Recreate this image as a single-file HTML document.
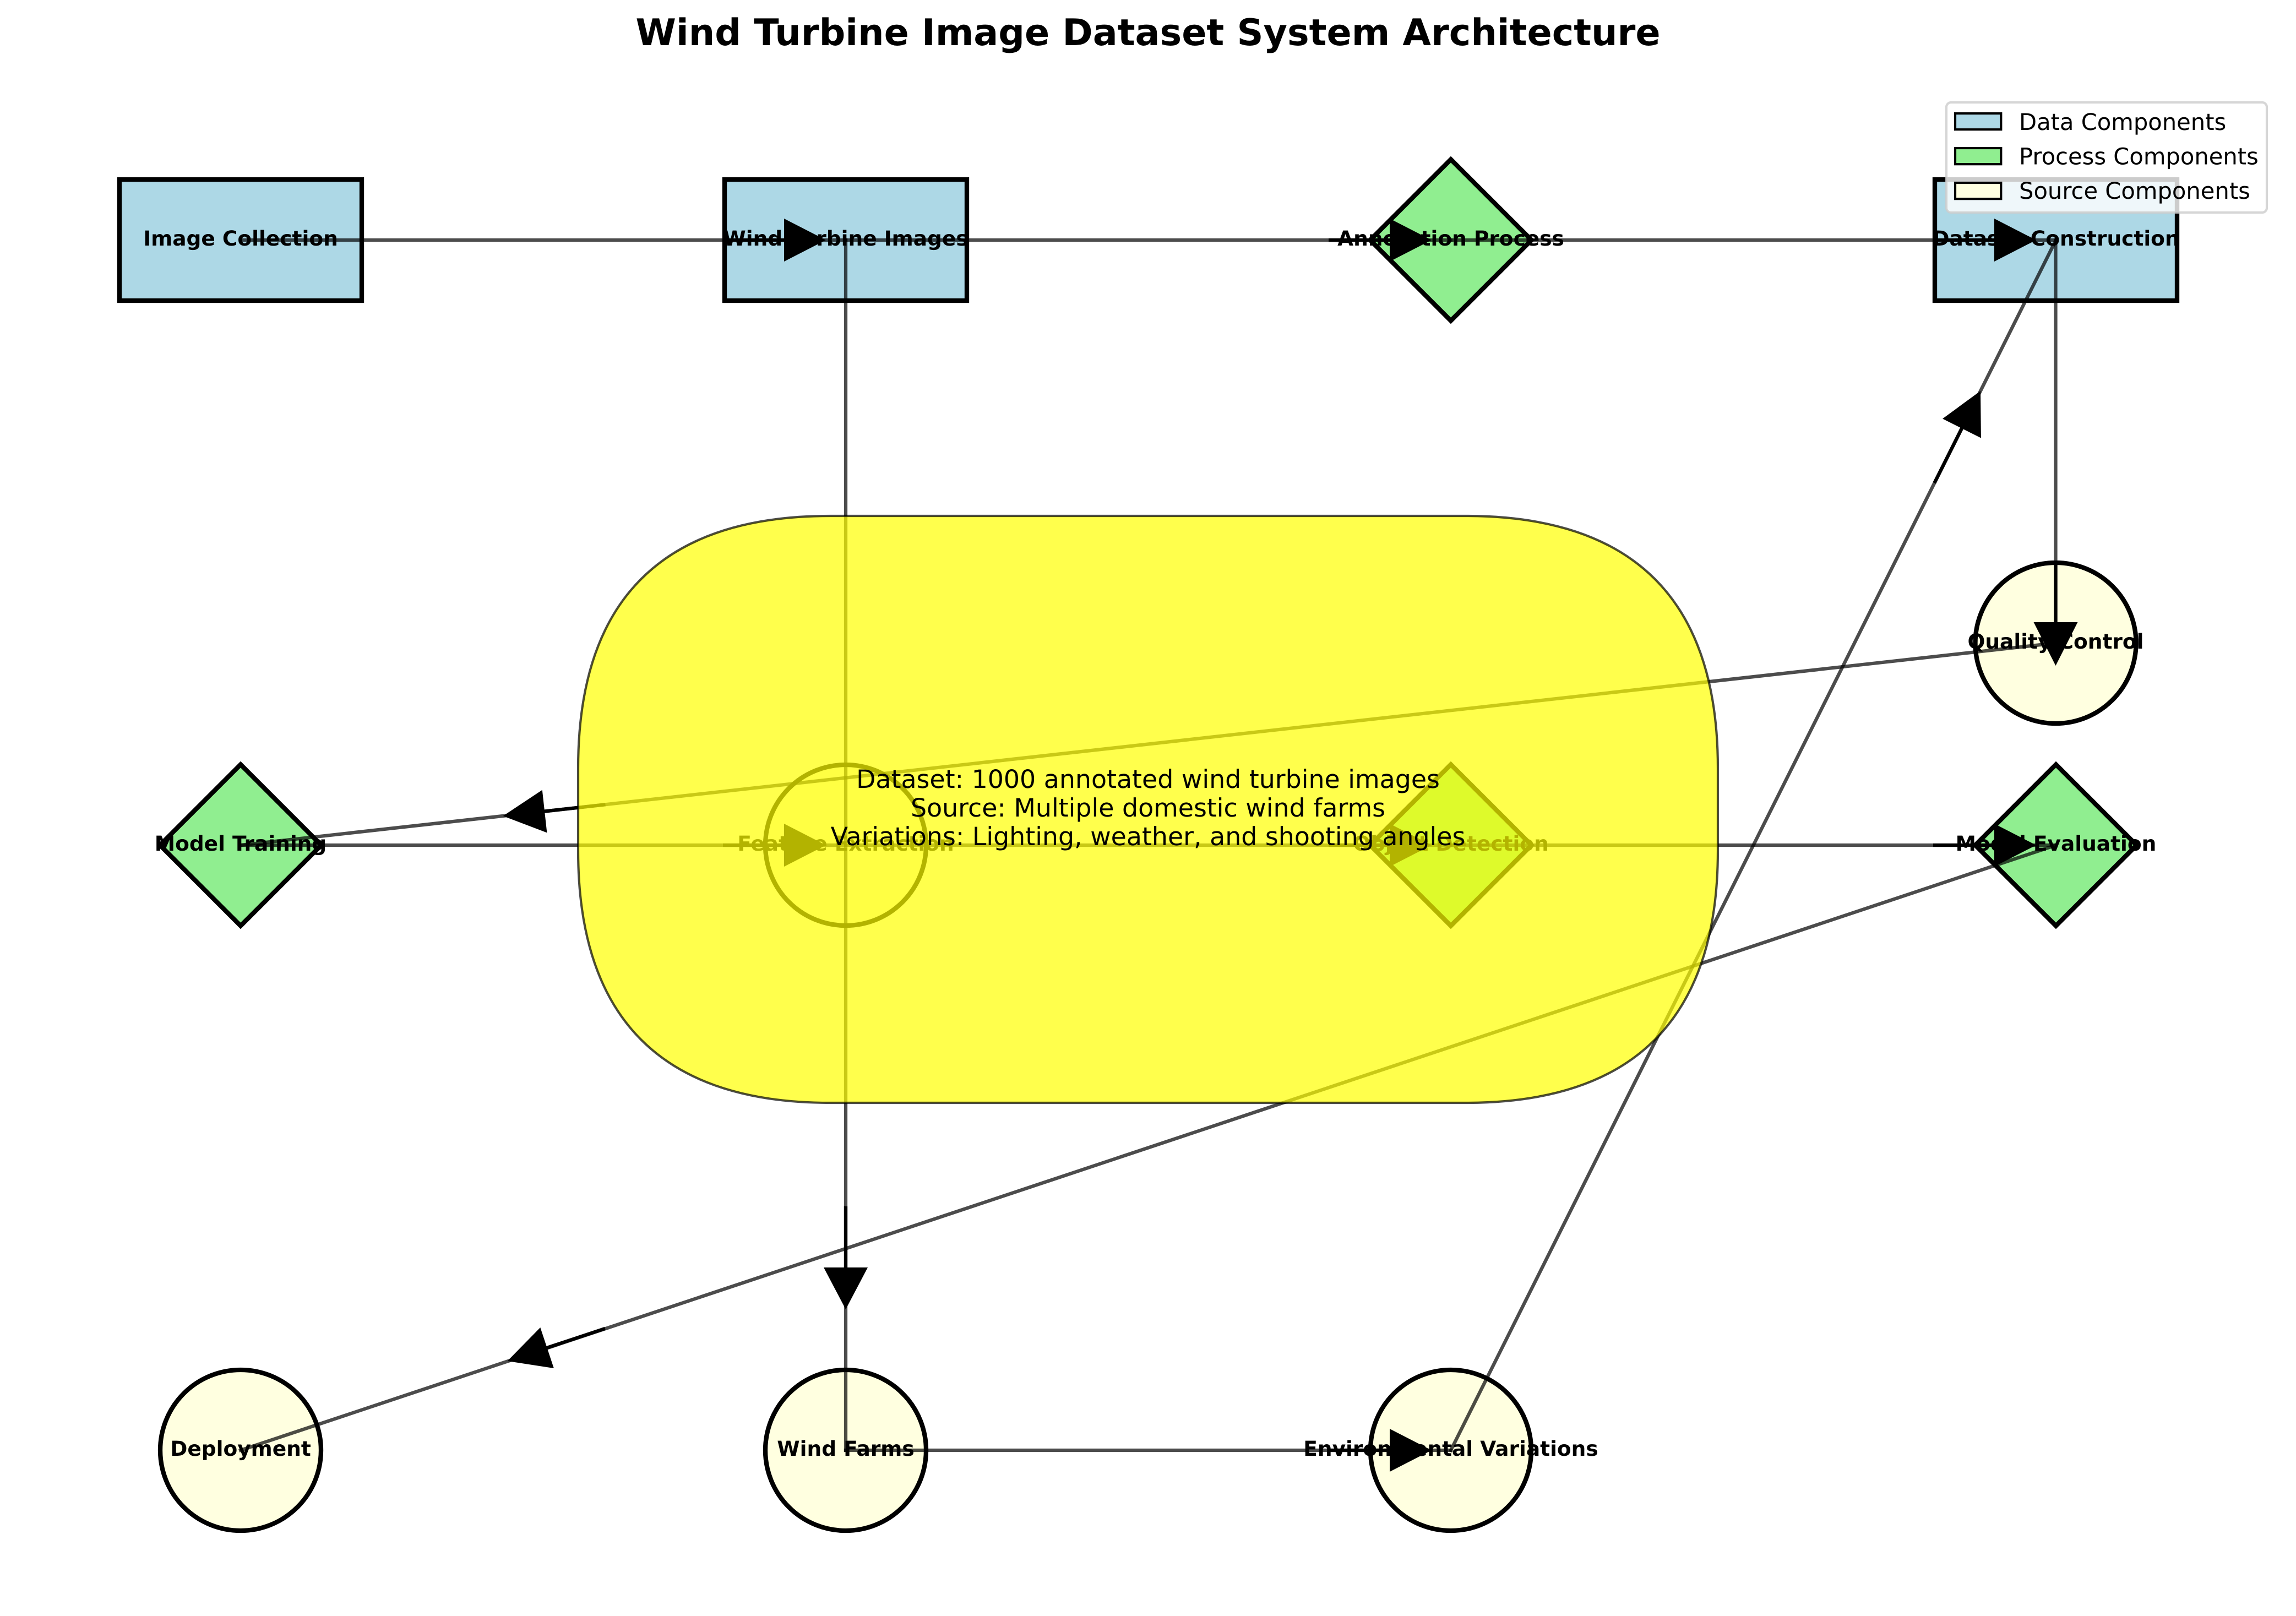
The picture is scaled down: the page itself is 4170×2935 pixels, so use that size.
<!DOCTYPE html>
<html lang="en">
<head>
<meta charset="utf-8">
<title>Wind Turbine Image Dataset System Architecture</title>
<style>
html,body{margin:0;padding:0;background:#fff;}
svg{display:block;}
text{font-family:"DejaVu Sans","Liberation Sans",sans-serif;text-rendering:geometricPrecision;fill:#000;}
.t{font-size:66.67px;font-weight:700;text-anchor:middle;}
.n{font-size:37.5px;font-weight:700;text-anchor:middle;}
.a{font-size:45.83px;text-anchor:middle;}
.l{font-size:41.67px;}
</style>
</head>
<body>
<svg width="4170" height="2935" viewBox="0 0 4170 2935" xmlns="http://www.w3.org/2000/svg">
<rect width="4170" height="2935" fill="#fff"/>
<text class="t" x="2085" y="82">Wind Turbine Image Dataset System Architecture</text>

<!-- nodes -->
<g stroke="#000" stroke-width="8.33">
<rect x="217" y="326" width="440" height="220" fill="#add8e6"/>
<rect x="1316" y="326" width="440" height="220" fill="#add8e6"/>
<polygon points="2635,289.5 2781.5,436 2635,582.5 2488.5,436" fill="#90ee90"/>
<rect x="3514" y="326" width="440" height="220" fill="#add8e6"/>
<circle cx="3733.5" cy="1168" r="146" fill="#ffffe0"/>
<polygon points="437,1388.5 583.5,1535 437,1681.5 290.5,1535" fill="#90ee90"/>
<circle cx="1536" cy="1535" r="146" fill="#ffffe0"/>
<polygon points="2635,1388.5 2781.5,1535 2635,1681.5 2488.5,1535" fill="#90ee90"/>
<polygon points="3734,1388.5 3880.5,1535 3734,1681.5 3587.5,1535" fill="#90ee90"/>
<circle cx="437" cy="2634" r="146" fill="#ffffe0"/>
<circle cx="1536" cy="2634" r="146" fill="#ffffe0"/>
<circle cx="2635" cy="2634" r="146" fill="#ffffe0"/>
</g>

<!-- node labels -->
<text class="n" x="437" y="446">Image Collection</text>
<text class="n" x="1536" y="446">Wind Turbine Images</text>
<text class="n" x="2635" y="446">Annotation Process</text>
<text class="n" x="3734" y="446">Dataset Construction</text>
<text class="n" x="3733.5" y="1178">Quality Control</text>
<text class="n" x="437" y="1545">Model Training</text>
<text class="n" x="1536" y="1545">Feature Extraction</text>
<text class="n" x="2635" y="1545">Object Detection</text>
<text class="n" x="3734" y="1545">Model Evaluation</text>
<text class="n" x="437" y="2644">Deployment</text>
<text class="n" x="1536" y="2644">Wind Farms</text>
<text class="n" x="2635" y="2644">Environmental Variations</text>

<!-- connector lines -->
<g stroke="#000" stroke-opacity="0.7" stroke-width="6.25" fill="none" stroke-linecap="square">
<line x1="437" y1="436" x2="1536" y2="436"/>
<line x1="1536" y1="436" x2="2635" y2="436"/>
<line x1="2635" y1="436" x2="3734" y2="436"/>
<line x1="3733.5" y1="436" x2="3733.5" y2="1168"/>
<line x1="3733.5" y1="1168" x2="437" y2="1535"/>
<line x1="437" y1="1535" x2="1536" y2="1535"/>
<line x1="1536" y1="1535" x2="2635" y2="1535"/>
<line x1="2635" y1="1535" x2="3734" y2="1535"/>
<line x1="3734" y1="1535" x2="437" y2="2634"/>
<line x1="1536" y1="436" x2="1536" y2="2634"/>
<line x1="1536" y1="2634" x2="2635" y2="2634"/>
<line x1="2635" y1="2634" x2="3734" y2="436"/>
</g>

<!-- arrow shafts -->
<g stroke="#000" stroke-width="6.25" fill="none">
<line x1="1313" y1="436" x2="1430" y2="436"/>
<line x1="2413" y1="436" x2="2530" y2="436"/>
<line x1="3511" y1="436" x2="3628" y2="436"/>
<line x1="3733.5" y1="1022" x2="3733.5" y2="1136"/>
<line x1="1099.5" y1="1461.3" x2="985" y2="1474"/>
<line x1="1313" y1="1535" x2="1430" y2="1535"/>
<line x1="2413" y1="1535" x2="2530" y2="1535"/>
<line x1="3511" y1="1535" x2="3628" y2="1535"/>
<line x1="1536" y1="2191" x2="1536" y2="2308"/>
<line x1="1098.9" y1="2412.9" x2="990" y2="2449"/>
<line x1="2413" y1="2634" x2="2530" y2="2634"/>
<line x1="3513.3" y1="877.2" x2="3566" y2="772"/>
</g>

<!-- arrow heads -->
<g fill="#000">
<polygon points="1424,397 1500,436 1424,475"/>
<polygon points="2524,397 2600,436 2524,475"/>
<polygon points="3622,397 3698,436 3622,475"/>
<polygon points="3693.5,1130 3773.5,1130 3733.5,1209"/>
<polygon points="993.4,1512.4 984.8,1434.8 913.6,1482"/>
<polygon points="1424,1496 1500,1535 1424,1574"/>
<polygon points="2524,1496 2600,1535 2524,1574"/>
<polygon points="3622,1496 3698,1535 3622,1574"/>
<polygon points="1496,2302 1576,2302 1536,2378"/>
<polygon points="1005.9,2485 981.3,2411 921.5,2472"/>
<polygon points="2524,2595 2600,2634 2524,2673"/>
<polygon points="3597,710 3597.9,795.5 3528.1,760.5"/>
</g>

<!-- annotation box -->
<path d="M1508,937 L2662,937 Q3120,937 3120,1395 L3120,1545 Q3120,2003 2662,2003 L1508,2003 Q1050,2003 1050,1545 L1050,1395 Q1050,937 1508,937 Z" fill="#ffff00" fill-opacity="0.7" stroke="#000" stroke-opacity="0.7" stroke-width="4.17"/>
<text class="a" x="2085" y="1431">Dataset: 1000 annotated wind turbine images</text>
<text class="a" x="2085" y="1483">Source: Multiple domestic wind farms</text>
<text class="a" x="2085" y="1535">Variations: Lighting, weather, and shooting angles</text>

<!-- legend -->
<rect x="3535" y="186" width="582" height="200" rx="8.5" ry="8.5" fill="#fff" fill-opacity="0.8" stroke="#ccc" stroke-opacity="0.8" stroke-width="4.17"/>
<g stroke="#000" stroke-width="4.17">
<rect x="3551" y="206" width="83.3" height="29.2" fill="#add8e6"/>
<rect x="3551" y="269" width="83.3" height="29.2" fill="#90ee90"/>
<rect x="3551" y="332" width="83.3" height="29.2" fill="#ffffe0"/>
</g>
<text class="l" x="3667" y="236">Data Components</text>
<text class="l" x="3667" y="298.5">Process Components</text>
<text class="l" x="3667" y="361">Source Components</text>
</svg>
</body>
</html>
